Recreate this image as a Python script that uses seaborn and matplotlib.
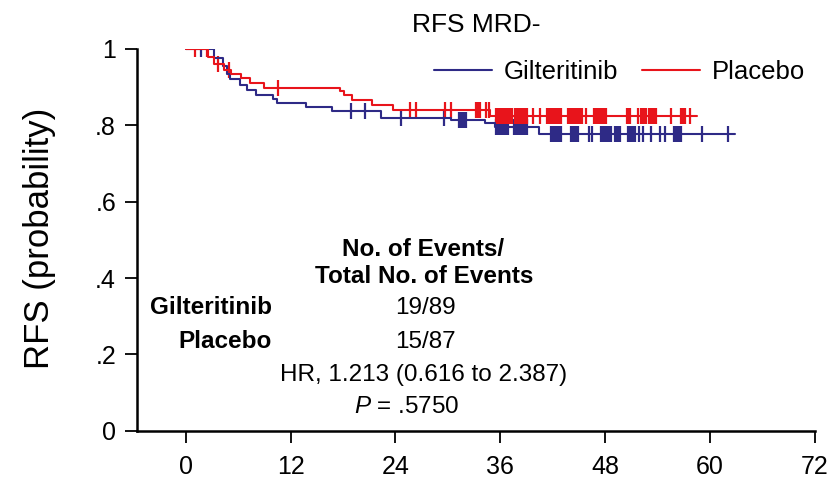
import numpy as np
import pandas as pd
import matplotlib
matplotlib.use('Agg')
import matplotlib.pyplot as plt
import seaborn as sns

# KM step points (months, survival after the step)
gilt_times = [0, 3.2, 4.3, 4.7, 5.1, 6.2, 7.0, 8.0, 10.0, 10.4, 13.8, 16.7, 22.3, 30.4, 34.2, 35.4, 40.4]
gilt_surv = [1.0, 0.977, 0.955, 0.935, 0.921, 0.906, 0.891, 0.880, 0.869, 0.858, 0.847, 0.838, 0.820, 0.814, 0.807, 0.795, 0.778]
gilt_end = 62.9
gilt_censor = [1.7, 18.9, 20.5, 24.6, 29.6, 31.3, 31.5, 31.7, 31.9, 32.1,
               35.5, 35.7, 35.9, 36.1, 36.3, 36.5, 36.7, 36.9,
               37.6, 37.8, 38.0, 38.2, 38.4, 38.6, 38.8, 39.0,
               41.8, 42.0, 42.2, 42.4, 42.6, 42.8, 43.0,
               44.1, 44.3, 44.5, 44.7, 44.9, 46.2, 46.5,
               47.5, 47.7, 47.9, 48.1, 48.3, 48.5, 48.7,
               49.1, 49.3, 49.5, 49.7, 50.6, 50.8, 51.0, 51.2, 51.4,
               51.9, 52.3, 53.2, 54.3, 54.9,
               55.9, 56.1, 56.3, 56.5, 56.7, 59.1, 62.1]

plac_times = [0, 2.5, 3.2, 4.4, 5.2, 6.3, 7.3, 9.0, 17.7, 18.1, 19.0, 21.3, 23.7, 34.8]
plac_surv = [1.0, 0.978, 0.960, 0.945, 0.935, 0.923, 0.911, 0.898, 0.889, 0.879, 0.866, 0.853, 0.840, 0.825]
plac_end = 58.5
plac_censor = [1.0, 2.4, 3.7, 4.9, 10.5, 25.7, 26.4, 29.7, 30.3, 33.2, 33.4, 33.7, 34.4, 34.7,
               35.5, 35.7, 35.9, 36.1, 36.3, 36.5, 36.7, 36.9, 37.1, 37.3,
               37.7, 37.9, 38.1, 38.3, 38.5, 38.7, 38.9, 39.1, 39.7, 40.5,
               41.3, 41.5, 41.7, 41.9, 42.1, 42.3, 42.5, 42.7, 42.9,
               43.7, 43.9, 44.1, 44.3, 44.5, 44.7, 44.9, 45.1, 45.3, 45.8,
               46.7, 46.9, 47.1, 47.3, 47.5, 47.7, 47.9, 48.1,
               50.5, 50.7, 50.9, 51.8, 52.1, 52.3, 52.5, 52.7,
               53.0, 53.2, 53.4, 53.6, 53.8, 55.5, 56.7, 56.9, 57.1, 57.7]

x_ticks = [0, 12, 24, 36, 48, 60, 72]
y_ticks = [0, 0.2, 0.4, 0.6, 0.8, 1.0]
y_tick_labels = ['0', '.2', '.4', '.6', '.8', '1']

BLUE = '#2e2a86'
RED = '#e8141b'

sns.set_style('ticks', {'axes.edgecolor': 'black', 'text.color': 'black',
                        'axes.labelcolor': 'black', 'xtick.color': 'black',
                        'ytick.color': 'black'})
plt.rcParams['font.family'] = ['Liberation Sans', 'DejaVu Sans']
plt.rcParams['mathtext.fontset'] = 'custom'
plt.rcParams['mathtext.it'] = 'Liberation Sans:italic'
plt.rcParams['mathtext.rm'] = 'Liberation Sans'


def km_frame(times, surv, end):
    # step curve, last level carried to the end of follow-up
    return pd.DataFrame({'t': list(times) + [end], 's': list(surv) + [surv[-1]]})


def censor_frame(times, surv, cens):
    idx = np.searchsorted(times, cens, side='right') - 1
    return pd.DataFrame({'t': cens, 's': np.asarray(surv)[idx]})


fig = plt.figure(figsize=(8.4, 4.83), dpi=100)
ax = fig.add_axes([0.163, 0.108, 0.807, 0.791])

for name, times, surv, end, cens, col in [
        ('Gilteritinib', gilt_times, gilt_surv, gilt_end, gilt_censor, BLUE),
        ('Placebo', plac_times, plac_surv, plac_end, plac_censor, RED)]:
    sns.lineplot(data=km_frame(times, surv, end), x='t', y='s', drawstyle='steps-post',
                 sort=False, estimator=None, color=col, linewidth=1.5, label=name, ax=ax)
    sns.scatterplot(data=censor_frame(times, surv, cens), x='t', y='s', marker='|',
                    s=130, linewidth=1.6, color=col, ax=ax, legend=False)

ax.set_xlim(-5.6, 72)
ax.set_ylim(0, 1)
ax.set_xticks(x_ticks)
ax.set_yticks(y_ticks)
ax.set_yticklabels(y_tick_labels)
ax.tick_params(axis='both', labelsize=18, length=8.5, width=1.3, direction='out')
ax.tick_params(axis='x', pad=9)
ax.tick_params(axis='y', pad=6.5)
for side in ['top', 'right']:
    ax.spines[side].set_visible(False)
for side in ['left', 'bottom']:
    ax.spines[side].set_linewidth(1.8)
ax.set_xlabel('')
ax.set_ylabel('RFS (probability)', fontsize=25)
ax.yaxis.set_label_coords(-0.12, 0.505)

ax.set_title('RFS MRD-', fontsize=19, pad=12)

ax.legend(loc='center', bbox_to_anchor=(0.712, 0.94), ncol=2, frameon=False,
          fontsize=18.5, handlelength=2.26, columnspacing=0.9, handletextpad=0.47)

# events table
fs = 17.5
ax.text(27.2, 0.474, 'No. of Events/', ha='center', va='center', fontsize=fs, fontweight='bold')
ax.text(27.3, 0.403, 'Total No. of Events', ha='center', va='center', fontsize=fs, fontweight='bold')
ax.text(9.83, 0.322, 'Gilteritinib', ha='right', va='center', fontsize=fs, fontweight='bold')
ax.text(27.4, 0.322, '19/89', ha='center', va='center', fontsize=fs)
ax.text(9.83, 0.233, 'Placebo', ha='right', va='center', fontsize=fs, fontweight='bold')
ax.text(27.4, 0.233, '15/87', ha='center', va='center', fontsize=fs)
ax.text(27.2, 0.147, 'HR, 1.213 (0.616 to 2.387)', ha='center', va='center', fontsize=fs)
ax.text(25.3, 0.063, r'$\mathit{P}$ = .5750', ha='center', va='center', fontsize=fs)

fig.savefig('out.png', dpi=100)
